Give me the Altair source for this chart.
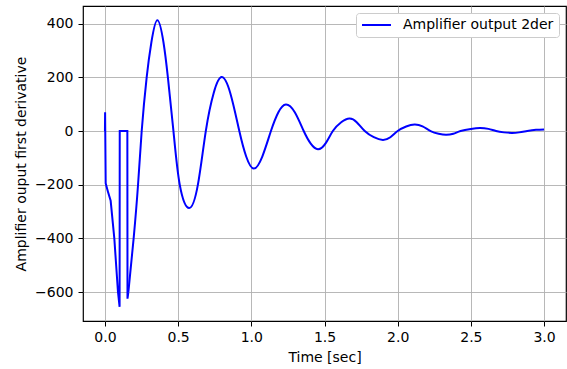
import altair as alt
import pandas as pd

# initial transient (drawn with straight segments)
time_start = [0.000, 0.001, 0.005, 0.020, 0.039, 0.064, 0.089, 0.100, 0.101,
              0.153, 0.154, 0.160]
deriv_start = [0, 70, -195, -225, -260, -400, -600, -655, 0,
               0, -625, -600]

# damped oscillation (drawn smooth)
time_osc = [
    0.160, 0.196, 0.226, 0.251, 0.285, 0.317, 0.358,
    0.400, 0.430, 0.468, 0.511, 0.575,
    0.635, 0.689, 0.743, 0.797,
    0.857, 0.918, 0.965, 1.016,
    1.075, 1.134, 1.185, 1.236,
    1.297, 1.358, 1.406, 1.455,
    1.506, 1.557, 1.614, 1.671,
    1.720, 1.775, 1.837, 1.899,
    1.950, 2.000, 2.058, 2.116,
    2.170, 2.225, 2.280, 2.330,
    2.380, 2.430, 2.500, 2.562,
    2.620, 2.672, 2.726, 2.780,
    2.830, 2.885, 2.945, 3.000,
]
deriv_osc = [
    -600, -400, -200, 0, 200, 330, 413,
    330, 200, 0, -200, -287,
    -200, 0, 142, 201,
    140, 0, -95, -140,
    -95, 0, 70, 99,
    70, 0, -47, -68,
    -47, 0, 33, 47,
    33, 0, -23, -33,
    -23, 0, 17, 24,
    17, 0, -10, -14,
    -10, 0, 8, 11.5,
    8, 0, -5, -7,
    -5, 0, 4.5, 6,
]
series_name = "Amplifier output 2der"
x_ticks = [0.0, 0.5, 1.0, 1.5, 2.0, 2.5, 3.0]
y_ticks = [-600, -400, -200, 0, 200, 400]

df = pd.DataFrame({
    "t": time_start + time_osc,
    "v": deriv_start + deriv_osc,
    "idx": list(range(len(time_start) + len(time_osc))),
    "part": ["start"] * len(time_start) + ["osc"] * len(time_osc),
    "series": [series_name] * (len(time_start) + len(time_osc)),
})

FONT = "DejaVu Sans"
FS = 14

enc = dict(
    x=alt.X("t:Q", title="Time [sec]",
            scale=alt.Scale(domain=[-0.15, 3.15], nice=False, zero=False),
            axis=alt.Axis(values=x_ticks, format=".1f", labelPadding=4, titlePadding=6)),
    y=alt.Y("v:Q", title="Amplifier ouput first derivative",
            scale=alt.Scale(domain=[-708, 466], nice=False, zero=False),
            axis=alt.Axis(values=y_ticks, format="d", labelPadding=5, titlePadding=6)),
    order="idx:Q",
    color=alt.Color("series:N",
                    scale=alt.Scale(domain=[series_name], range=["#0000ff"]),
                    legend=alt.Legend(title=None, orient="top-right", offset=7,
                                      symbolType="stroke", symbolSize=840,
                                      symbolStrokeWidth=2, labelOffset=11,
                                      padding=5, clipHeight=14,
                                      fillColor="white", strokeColor="#cccccc",
                                      cornerRadius=3, labelFont=FONT,
                                      labelFontSize=FS, labelColor="black")),
)

base = alt.Chart(df)
start_line = base.transform_filter(alt.datum.part == "start").mark_line(
    interpolate="linear", strokeWidth=2, clip=True).encode(**enc)
osc_line = base.transform_filter(alt.datum.part == "osc").mark_line(
    interpolate="natural", strokeWidth=2, clip=True).encode(**enc)

chart = alt.layer(start_line, osc_line).properties(
    width=483, height=315,
    background="white",
    autosize=alt.AutoSizeParams(type="none"),
    padding={"left": 83, "top": 6, "right": 1, "bottom": 48},
).configure_view(
    stroke="black", strokeWidth=1.2
).configure_axis(
    domain=False, grid=True, gridColor="#b0b0b0", gridWidth=0.9,
    tickColor="black", tickSize=5, tickWidth=1,
    labelFont=FONT, labelFontSize=FS, labelColor="black",
    titleFont=FONT, titleFontSize=FS, titleFontWeight="normal", titleColor="black",
)

chart.save("out.html", embed_options={"renderer": "svg", "actions": False})
